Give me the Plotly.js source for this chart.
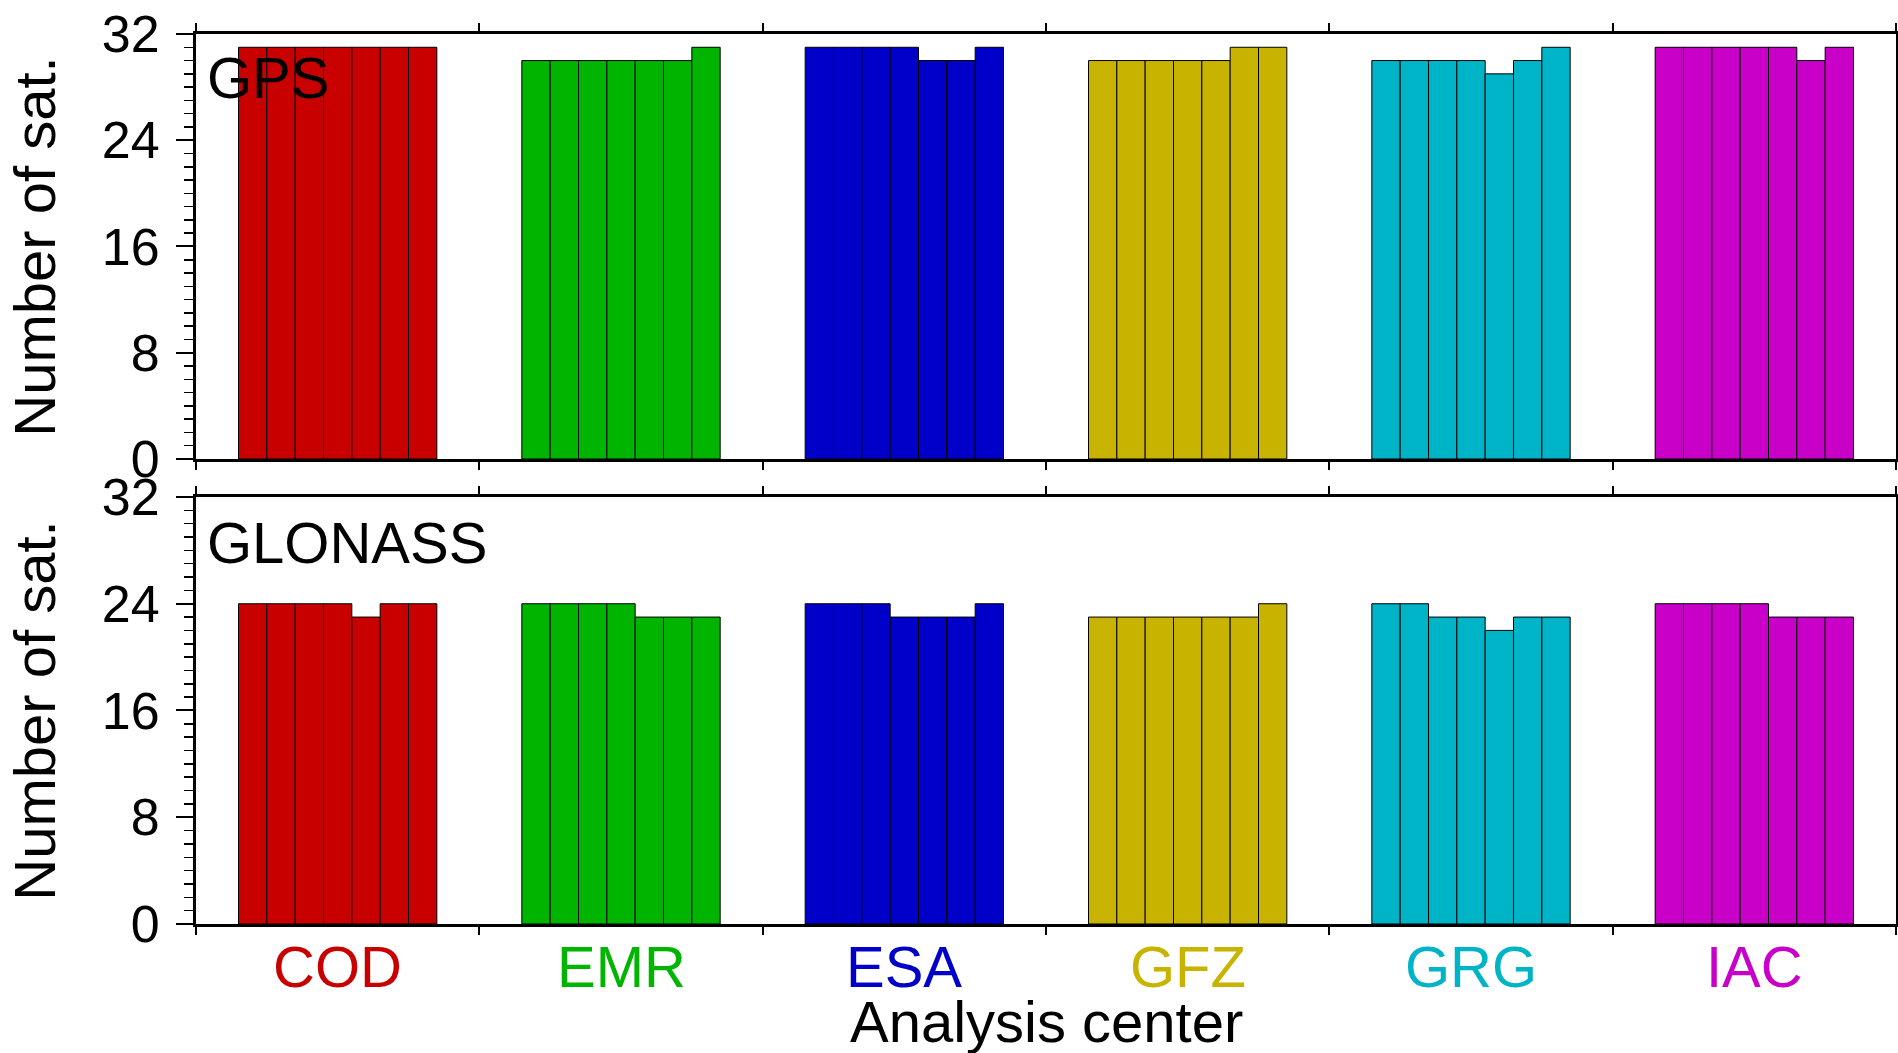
<!DOCTYPE html>
<html>
<head>
<meta charset="utf-8">
<script src="https://cdn.plot.ly/plotly-3.0.1.min.js"></script>
<style>
  html, body { margin: 0; padding: 0; background: #ffffff; }
  #chart { width: 1898px; height: 1053px; }
</style>
</head>
<body>
<div id="chart"></div>
<script>
// Analysis centers and their colours
const analysisCenters = ['COD', 'EMR', 'ESA', 'GFZ', 'GRG', 'IAC'];
const centerColors = ['#c80000', '#00b400', '#0000c8', '#c8b400', '#00b4c8', '#c800c8'];

// Panel names
const systems = ['GPS', 'GLONASS'];

// Number of GPS satellites per day (7 days) for each analysis center
const gpsSatellites = [
  [31, 31, 31, 31, 31, 31, 31], // COD
  [30, 30, 30, 30, 30, 30, 31], // EMR
  [31, 31, 31, 31, 30, 30, 31], // ESA
  [30, 30, 30, 30, 30, 31, 31], // GFZ
  [30, 30, 30, 30, 29, 30, 31], // GRG
  [31, 31, 31, 31, 31, 30, 31]  // IAC
];

// Number of GLONASS satellites per day (7 days) for each analysis center
const glonassSatellites = [
  [24, 24, 24, 24, 23, 24, 24], // COD
  [24, 24, 24, 24, 23, 23, 23], // EMR
  [24, 24, 24, 23, 23, 23, 24], // ESA
  [23, 23, 23, 23, 23, 23, 24], // GFZ
  [24, 24, 23, 23, 22, 23, 23], // GRG
  [24, 24, 24, 24, 23, 23, 23]  // IAC
];

const yAxisTitle = 'Number of sat.';
const xAxisTitle = 'Analysis center';

const FONT = 'Liberation Sans, Arial, Helvetica, sans-serif';

// Each center occupies one unit on the x axis; its daily bars fill the middle 70%.
const groupFill = 0.7;

function panelTraces(counts, xa, ya) {
  const traces = [];
  counts.forEach((row, i) => {
    const w = groupFill / row.length;
    const start = i + (1 - groupFill) / 2 + w / 2;
    traces.push({
      type: 'bar',
      x: row.map((_, k) => start + k * w),
      y: row,
      width: w,
      xaxis: xa,
      yaxis: ya,
      marker: { color: centerColors[i], line: { color: '#000000', width: 1 } },
      hoverinfo: 'y',
      showlegend: false
    });
  });
  return traces;
}

const data = [
  ...panelTraces(glonassSatellites, 'x', 'y'),
  ...panelTraces(gpsSatellites, 'x2', 'y2')
];

function xAxis(anchor) {
  return {
    anchor: anchor,
    domain: [0, 1],
    range: [0, analysisCenters.length],
    tickvals: analysisCenters.map((_, i) => i).concat([analysisCenters.length]),
    ticks: 'outside', ticklen: 8, tickwidth: 2, tickcolor: '#000',
    showticklabels: false,
    showline: true, linewidth: 3, linecolor: '#000', mirror: 'ticks',
    showgrid: false, zeroline: false, fixedrange: true
  };
}

function yAxis(anchor, domain) {
  return {
    anchor: anchor,
    domain: domain,
    range: [0, 32],
    tickmode: 'linear', tick0: 0, dtick: 8,
    ticks: 'outside', ticklen: 17, tickwidth: 2, tickcolor: '#000',
    minor: { tick0: 0, dtick: 1, ticks: 'outside', ticklen: 9, tickwidth: 1.5, tickcolor: '#000', showgrid: false },
    tickfont: { family: FONT, size: 52, color: '#000' },
    ticklabelstandoff: 6,
    title: { text: yAxisTitle, font: { family: FONT, size: 58, color: '#000' }, standoff: 28 },
    showline: true, linewidth: 3, linecolor: '#000', mirror: 'ticks',
    showgrid: false, zeroline: false, fixedrange: true
  };
}

const annotations = [];
// Center names under the lower panel, each in its bar colour
analysisCenters.forEach((name, i) => {
  annotations.push({
    text: name, xref: 'x', yref: 'paper', x: i + 0.5, y: -0.048,
    xanchor: 'center', yanchor: 'middle', showarrow: false,
    font: { family: FONT, size: 58, color: centerColors[i] }
  });
});
// x axis title
annotations.push({
  text: xAxisTitle, xref: 'paper', yref: 'paper', x: 0.5, y: -0.11,
  xanchor: 'center', yanchor: 'middle', showarrow: false,
  font: { family: FONT, size: 58, color: '#000' }
});
// Panel labels
annotations.push({
  text: systems[0], xref: 'paper', yref: 'paper', x: 0.005, y: 0.951,
  xanchor: 'left', yanchor: 'middle', showarrow: false,
  font: { family: FONT, size: 58, color: '#000' }
});
annotations.push({
  text: systems[1], xref: 'paper', yref: 'paper', x: 0.005, y: 0.429,
  xanchor: 'left', yanchor: 'middle', showarrow: false,
  font: { family: FONT, size: 58, color: '#000' }
});

const layout = {
  width: 1898, height: 1053,
  margin: { l: 196, r: 2, t: 34, b: 129, pad: 0 },
  paper_bgcolor: '#ffffff', plot_bgcolor: '#ffffff',
  barmode: 'overlay',
  bargap: 0,
  font: { family: FONT, color: '#000' },
  xaxis: xAxis('y'),
  yaxis: yAxis('x', [0, 0.4798]),
  xaxis2: xAxis('y2'),
  yaxis2: yAxis('x2', [0.5225, 1]),
  annotations: annotations,
  showlegend: false
};

Plotly.newPlot('chart', data, layout, { displayModeBar: false, staticPlot: true });
</script>
</body>
</html>
